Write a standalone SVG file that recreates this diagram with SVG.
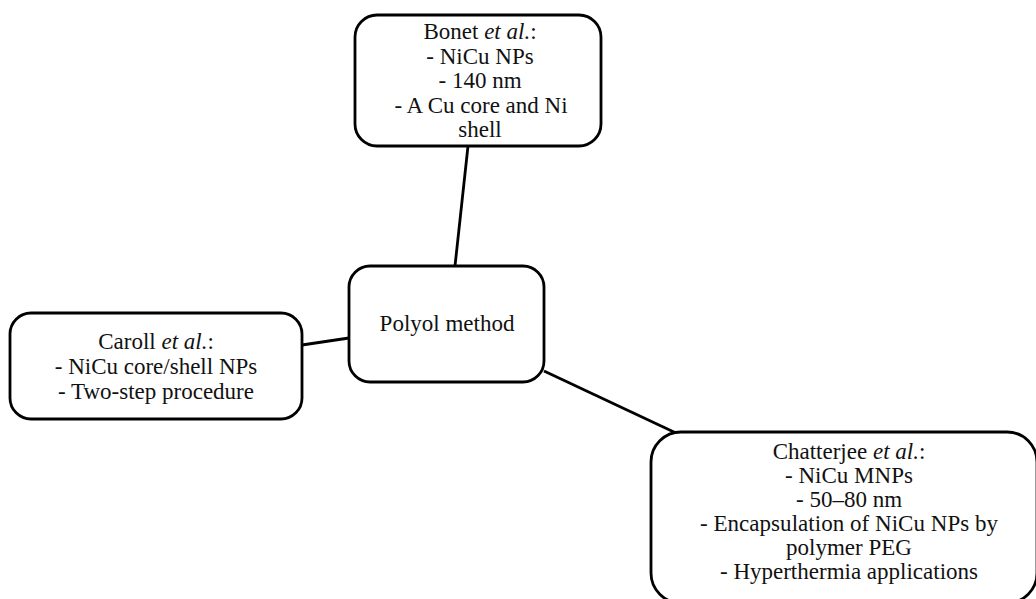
<svg xmlns="http://www.w3.org/2000/svg" width="1036" height="599" viewBox="0 0 1036 599">
<style>
.box{fill:#fff;stroke:#000;stroke-width:2.8}
.edge{stroke:#000;stroke-width:2.8;fill:none}
text{font-family:"Liberation Serif","Times New Roman",serif;font-size:23px;fill:#111;text-anchor:middle}
.it{font-style:italic}
</style>
<rect width="1036" height="599" fill="#fff"/>
<g id="connectors">
<line class="edge" x1="468" y1="146" x2="455" y2="266"/>
<line class="edge" x1="302" y1="345" x2="349" y2="338"/>
<line class="edge" x1="544" y1="371" x2="676" y2="433"/>
</g>
<g id="bonet">
<rect class="box" x="355" y="15" width="246" height="131" rx="22"/>
<text x="480" y="39">Bonet <tspan class="it">et al.</tspan>:</text>
<text x="480" y="64">- NiCu NPs</text>
<text x="480" y="88">- 140 nm</text>
<text x="481" y="113">- A Cu core and Ni</text>
<text x="480" y="137">shell</text>
</g>
<g id="polyol">
<rect class="box" x="349" y="266" width="195" height="116" rx="21"/>
<text x="447" y="331">Polyol method</text>
</g>
<g id="caroll">
<rect class="box" x="10" y="313" width="292" height="106" rx="21"/>
<text x="156" y="349">Caroll <tspan class="it">et al.</tspan>:</text>
<text x="156" y="374">- NiCu core/shell NPs</text>
<text x="156" y="399">- Two-step procedure</text>
</g>
<g id="chatterjee">
<rect class="box" x="651" y="432" width="386" height="171" rx="30"/>
<text x="849" y="459">Chatterjee <tspan class="it">et al.</tspan>:</text>
<text x="849" y="483">- NiCu MNPs</text>
<text x="849" y="507">- 50–80 nm</text>
<text x="849" y="531" textLength="298" lengthAdjust="spacing">- Encapsulation of NiCu NPs by</text>
<text x="849" y="555">polymer PEG</text>
<text x="849" y="579">- Hyperthermia applications</text>
</g>
</svg>
